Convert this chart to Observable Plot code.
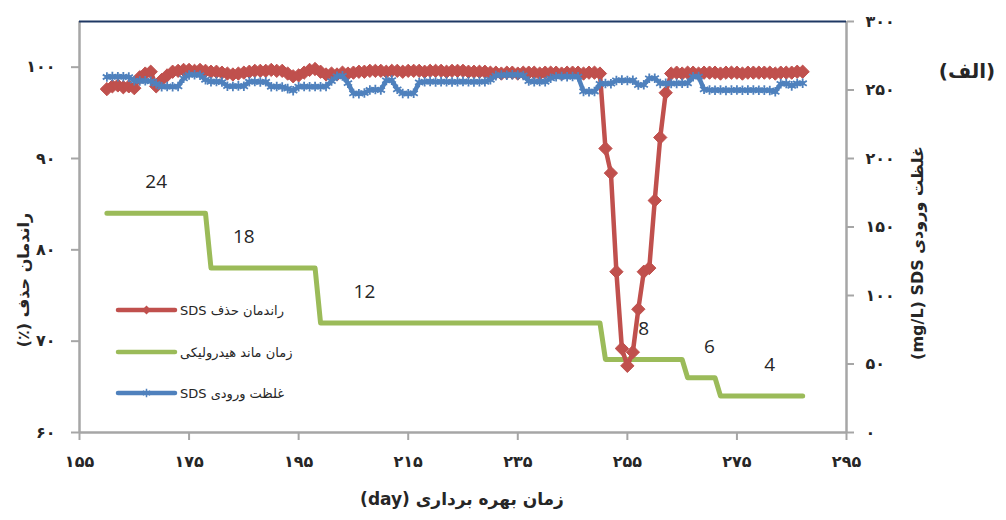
<!DOCTYPE html>
<html><head><meta charset="utf-8">
<script src="https://cdn.jsdelivr.net/npm/d3@7"></script>
<script src="https://cdn.jsdelivr.net/npm/@observablehq/plot@0.6"></script>
<style>
body{margin:0;background:#fff;}
#chart{position:relative;width:1006px;height:520px;}
</style></head><body><div id="chart"></div>
<script>
// ---- data ----
const days = [160,161,162,163,164,165,166,167,168,169,170,171,172,173,174,175,176,177,178,179,
180,181,182,183,184,185,186,187,188,189,190,191,192,193,194,195,196,197,198,199,
200,201,202,203,204,205,206,207,208,209,210,211,212,213,214,215,216,217,218,219,
220,221,222,223,224,225,226,227,228,229,230,231,232,233,234,235,236,237,238,239,
240,241,242,243,244,245,246,247,248,249,250,251,252,253,254,255,256,257,258,259,
260,261,262,263,264,265,266,267,268,269,270,271,272,273,274,275,276,277,278,279,
280,281,282,283,284,285,286,287];
// SDS removal efficiency (%), left axis
const removalPct = [97.6,97.9,98.0,97.8,97.9,97.7,98.9,99.3,99.5,97.9,98.6,99.1,99.5,99.6,99.7,99.7,99.6,99.7,99.6,99.5,
99.5,99.4,99.3,99.2,99.3,99.4,99.5,99.6,99.6,99.6,99.7,99.6,99.6,99.3,99.0,99.1,99.4,99.7,99.8,99.5,
99.2,99.3,99.2,99.4,99.3,99.4,99.5,99.5,99.6,99.6,99.6,99.5,99.6,99.6,99.5,99.6,99.6,99.6,99.5,99.6,
99.6,99.6,99.5,99.6,99.6,99.6,99.5,99.5,99.5,99.5,99.4,99.4,99.3,99.4,99.4,99.3,99.4,99.4,99.4,99.3,
99.4,99.4,99.4,99.3,99.4,99.4,99.4,99.3,99.4,99.4,99.3,91.1,88.4,77.6,69.2,67.3,68.8,73.5,77.6,78.0,
85.4,92.3,97.2,99.3,99.4,99.3,99.4,99.4,99.3,99.4,99.4,99.4,99.3,99.4,99.4,99.4,99.3,99.4,99.4,99.4,
99.4,99.4,99.3,99.4,99.4,99.4,99.5,99.5];
// Inlet SDS concentration (mg/L), right axis
const inletSDS = [259.5,259.8,259.6,259.7,259.4,256.8,256.5,256.7,256.4,254.5,252.4,252.6,252.3,252.6,258.5,261.0,261.2,260.8,257.5,256.0,
256.2,255.8,252.8,252.6,253.0,252.7,256.0,256.2,255.8,256.0,252.4,252.6,252.2,251.0,249.5,252.4,252.6,252.3,252.5,252.4,
252.6,256.5,260.0,260.3,255.0,247.5,247.3,247.8,250.0,250.3,250.0,257.0,257.2,250.5,247.5,247.3,247.6,255.5,256.0,256.2,
255.9,256.0,256.1,255.8,256.0,256.2,256.0,255.9,256.1,256.0,257.5,260.5,261.0,260.8,261.2,261.0,260.6,256.5,256.0,256.2,
256.0,258.5,259.7,259.9,259.6,259.8,259.7,249.0,248.7,248.9,254.5,254.8,254.6,257.0,257.2,256.9,257.1,253.6,253.8,258.5,
258.6,254.8,254.9,254.7,254.8,255.0,254.9,259.7,259.8,250.5,250.0,249.8,250.0,249.7,249.9,250.0,249.8,249.9,250.0,249.8,
249.9,249.7,248.7,254.5,254.8,253.0,254.8,254.9];
// Hydraulic retention time (h): stage boundary days and values
const hrtDays  = [160,178,179,198,199,250,251,265,266,271,272,287];
const hrtHours = [24,24,18,18,12,12,8,8,6,6,4,4];
// HRT annotation labels and the day they are written at
const hrtLabelValues = [24,18,12,8,6,4];
const hrtLabelDays   = [169,185,207,258,270,281];

const xTicks = [155,175,195,215,235,255,275,295];
const leftTicks = [60,70,80,90,100];
const rightTicks = [0,50,100,150,200,250,300];

const seriesNames = ["راندمان حذف SDS","زمان ماند هیدرولیکی","غلظت ورودی SDS"];
const colors = {red:"#c0504d", green:"#9bbb59", blue:"#4f81bd"};

// ---- helpers ----
const L0 = 60, L1 = 105, R1 = 300;
const toLeft = v => L0 + v * (L1 - L0) / R1;
const fromLeft = y => (y - L0) * R1 / (L1 - L0);
const fa = n => String(n).replace(/\d/g, c => "۰۱۲۳۴۵۶۷۸۹"[+c]);
const RLE = "\u202B", PDF = "\u202C";

const removal = days.map((d,i)=>({day:d, v:removalPct[i]}));
const inlet = days.map((d,i)=>({day:d, v:toLeft(inletSDS[i])}));
const hrt = hrtDays.map((d,i)=>({day:d, v:L0 + hrtHours[i]}));
const hrtLab = hrtLabelDays.map((d,i)=>({day:d, v:L0 + hrtLabelValues[i], t:String(hrtLabelValues[i])}));

const axisGray = "#a6a6a6";
const svg = Plot.plot({
  width:1006, height:520,
  marginLeft:79, marginRight:160, marginTop:21, marginBottom:88,
  style:{fontFamily:"'DejaVu Sans', sans-serif", background:"transparent", color:"#262626"},
  x:{domain:[155,295]},
  y:{domain:[L0,L1]},
  marks:[
    Plot.axisX(xTicks, {tickSize:8, tickPadding:15, tickFormat:fa, label:null, stroke:axisGray, strokeWidth:2}),
    Plot.axisY(leftTicks, {anchor:"left", tickSize:8, tickPadding:16, tickFormat:fa, label:null, stroke:axisGray, strokeWidth:2}),
    Plot.axisY(rightTicks.map(toLeft), {anchor:"right", tickSize:7, tickPadding:12, tickFormat:d=>fa(Math.round(fromLeft(d))), label:null, stroke:axisGray, strokeWidth:2}),
    Plot.ruleY([L0], {stroke:axisGray, strokeWidth:2.5}),
    Plot.ruleX([155,295], {stroke:axisGray, strokeWidth:2.5}),
    Plot.ruleY([L1], {stroke:"#1f3864", strokeWidth:2}),
    Plot.line(hrt, {x:"day", y:"v", stroke:colors.green, strokeWidth:5, strokeLinecap:"round"}),
    Plot.text(hrtLab, {x:"day", y:"v", text:"t", dy:-31, fontSize:19, fontFamily:"'Open Sans', sans-serif", fill:"#262626"}),
    Plot.line(removal, {x:"day", y:"v", stroke:colors.red, strokeWidth:4.5}),
    Plot.dot(removal, {x:"day", y:"v", symbol:"diamond2", r:6, fill:colors.red, stroke:colors.red, strokeWidth:1}),
    Plot.line(inlet, {x:"day", y:"v", stroke:colors.blue, strokeWidth:4.5}),
    Plot.dot(inlet, {x:"day", y:"v", symbol:"asterisk", r:4.5, stroke:colors.blue, strokeWidth:1.8})
  ]
});

const s = d3.select(svg);
s.selectAll('g[aria-label="x-axis tick label"], g[aria-label="y-axis tick label"]')
  .style("font-size","16px").style("font-weight","bold").style("fill","#262626");

// axis titles
s.append("text").attr("x",462).attr("y",505).attr("text-anchor","middle")
  .style("font-size","17px").style("font-weight","bold").attr("fill","#262626")
  .text(RLE + "زمان بهره برداری (day)" + PDF);
s.append("text").attr("transform","translate(23,280) rotate(-90)").attr("text-anchor","middle").attr("dy","0.35em")
  .style("font-size","16px").style("font-weight","bold").attr("fill","#262626")
  .text(RLE + "راندمان حذف (٪)" + PDF);
s.append("text").attr("transform","translate(917,253) rotate(-90)").attr("text-anchor","middle").attr("dy","0.35em")
  .style("font-size","16px").style("font-weight","bold").attr("fill","#262626")
  .text("(mg/L) SDS غلظت ورودی");
s.append("text").attr("x",967).attr("y",71).attr("text-anchor","middle").attr("dy","0.35em")
  .attr("direction","rtl")
  .style("font-size","20px").style("font-weight","bold").attr("fill","#262626")
  .text("(الف)");

// legend (inside plot area)
const leg = s.append("g");
const legY = [310,352,393];
const legCols = [colors.red, colors.green, colors.blue];
legY.forEach((y,i)=>{
  leg.append("line").attr("x1",118).attr("x2",175).attr("y1",y).attr("y2",y)
    .attr("stroke",legCols[i]).attr("stroke-width",4.5).attr("stroke-linecap","round");
  if (i===0) leg.append("path").attr("d", d3.symbol(d3.symbolDiamond2, Math.PI*16)()).attr("transform",`translate(146.5,${y})`).attr("fill",colors.red);
  if (i===2) leg.append("path").attr("d", d3.symbol(d3.symbolAsterisk, Math.PI*16)()).attr("transform",`translate(146.5,${y})`).attr("fill","none").attr("stroke",colors.blue).attr("stroke-width",1.5);
  leg.append("text").attr("x",180).attr("y",y).attr("dy","0.35em")
    .attr("direction","rtl").attr("text-anchor","end")
    .style("font-size","13px").attr("fill","#262626")
    .text(seriesNames[i]);
});

document.getElementById("chart").appendChild(svg);
</script>
</body></html>
